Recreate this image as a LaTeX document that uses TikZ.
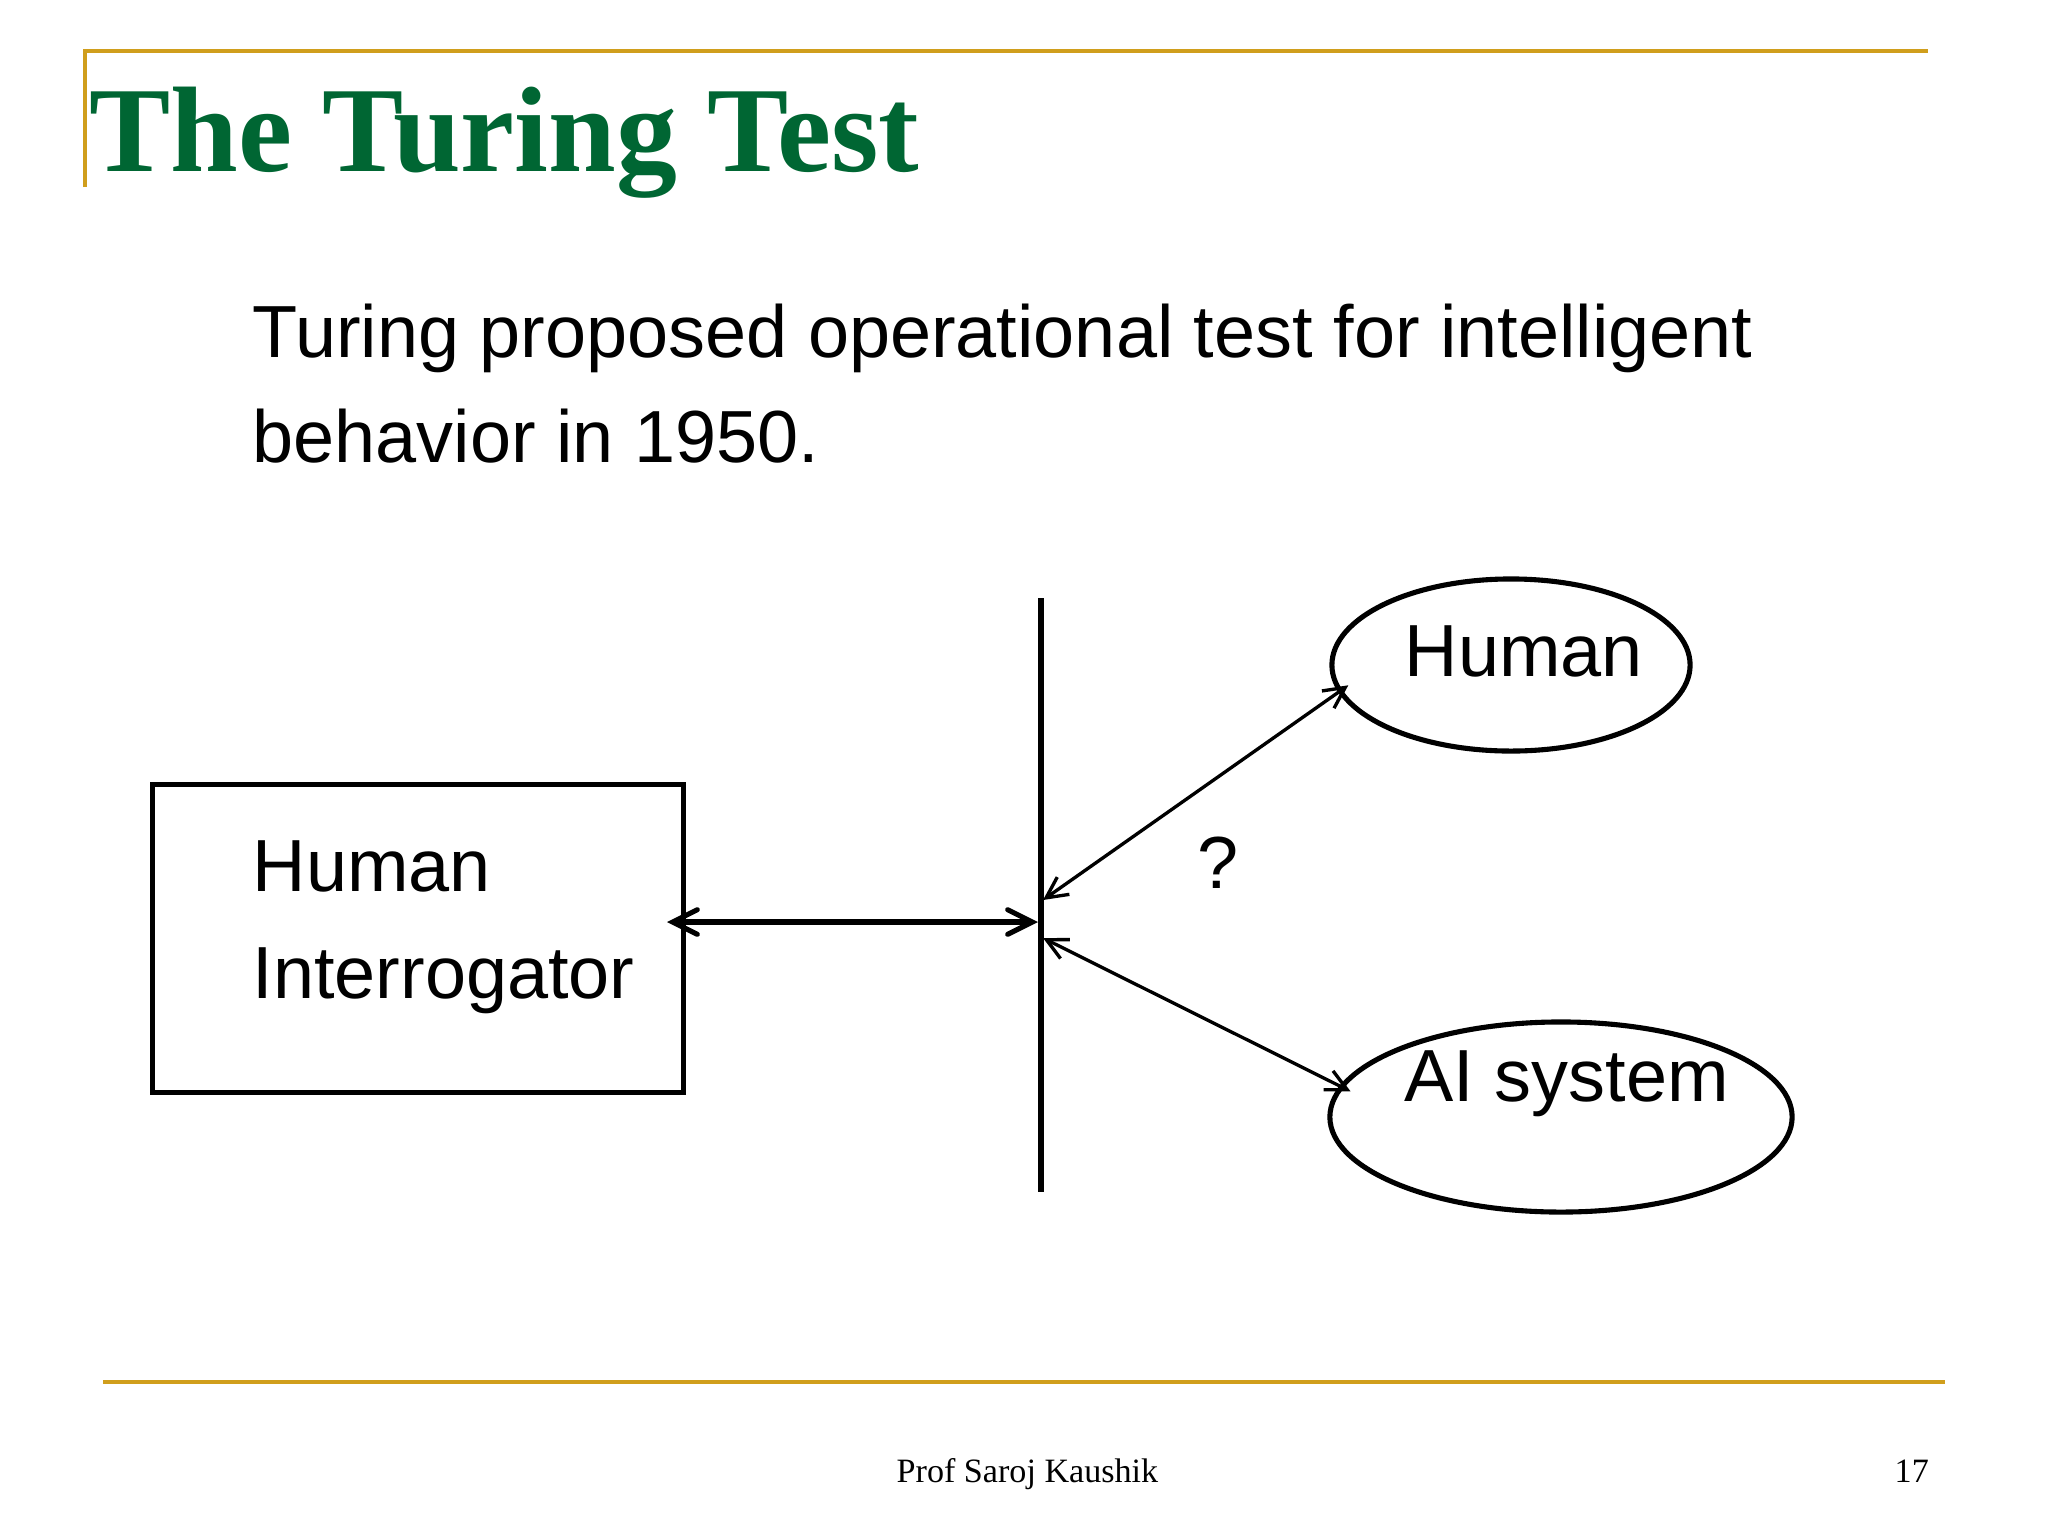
\documentclass[tikz,border=0pt]{standalone}
\usepackage{fontspec}
\setmainfont{Liberation Serif}
\newfontfamily\arialf{Liberation Sans}
\usetikzlibrary{arrows.meta,shapes.geometric}
\definecolor{gold}{RGB}{208,158,28}
\definecolor{titlegreen}{RGB}{0,102,51}
\begin{document}
\begin{tikzpicture}[x=0.01cm,y=-0.01cm,
  goldline/.style={draw=gold,line width=1.15pt},
  txt/.style={anchor=base west,inner sep=0pt,font=\arialf\fontsize{21}{25}\selectfont},
  foot/.style={anchor=base west,inner sep=0pt,font=\fontsize{9.7}{12}\selectfont},
  thickline/.style={line width=1.5pt},
  bigarrow/.style={line width=1.45pt,line cap=round,{Straight Barb[length=7pt,width=7pt,line cap=round]}-{Straight Barb[length=7pt,width=7pt,line cap=round]}},
  thinarrow/.style={line width=0.95pt,shorten >=-3.5pt,{Straight Barb[length=6pt,width=6pt]}-{Straight Barb[length=6pt,width=6pt]}},
  ellbox/.style={draw,ellipse,line width=1.45pt,inner sep=0pt}]
\useasboundingbox[fill=white] (0,0) rectangle (2048,1536);
% frame lines
\coordinate (tl) at (85,51);
\coordinate (tr) at (1928,51);
\coordinate (tb) at (85,187);
\draw[goldline] (tb) -- (tl) -- (tr);
\coordinate (bl) at (103,1382);
\coordinate (br) at (1945,1382);
\draw[goldline] (bl) -- (br);
% title
\node[anchor=base west,inner sep=0pt,text=titlegreen,font=\fontsize{34.6}{40}\selectfont\bfseries] (title) at (89,171) {The Turing Test};
% body text
\node[txt] (l1) at (252,357) {Turing proposed operational test for intelligent};
\node[txt] (l2) at (252,462) {behavior in 1950.};
% box
\node[draw,line width=1.45pt,minimum width=5.30cm,minimum height=3.07cm,inner sep=0pt] (box) at (418,938.5) {};
\node[txt] (hi1) at (252,891) {Human};
\node[txt] (hi2) at (252,998) {Interrogator};
% barrier
\coordinate (bartop) at (1041,598);
\coordinate (barbot) at (1041,1192);
\draw[thickline] (bartop) -- (barbot);
% ellipses
\node[ellbox,minimum width=3.58cm,minimum height=1.72cm] (hum) at (1511,665) {};
\node[txt] (humt) at (1404,676) {Human};
\node[ellbox,minimum width=4.62cm,minimum height=1.90cm] (ai) at (1561,1117) {};
\node[txt] (ait) at (1404,1101) {AI system};
% arrows
\coordinate (al) at (667,922);
\coordinate (ar) at (1038,922);
\draw[bigarrow] (al) -- (ar);
\coordinate (u1) at (1043,900);
\coordinate (d1) at (1043,938);
\draw[thinarrow] (u1) -- (hum.189);
\draw[thinarrow] (d1) -- (ai.172);
\node[anchor=base,inner sep=0pt,font=\arialf\fontsize{21}{25}\selectfont] (q) at (1218,888) {?};
% footer
\node[foot] (f1) at (896,1482) {Prof Saroj Kaushik};
\node[foot] (f2) at (1894,1482) {17};
\end{tikzpicture}
\end{document}
